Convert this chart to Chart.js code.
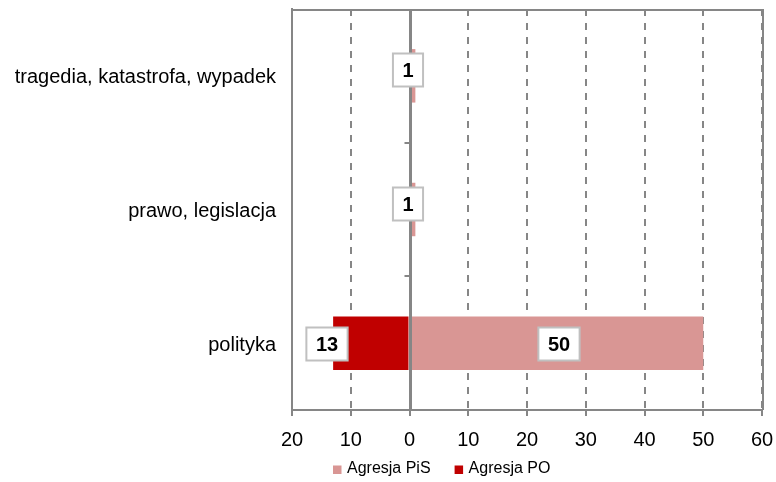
<!DOCTYPE html>
<html>
<head>
<meta charset="utf-8">
<script src="https://cdn.jsdelivr.net/npm/chart.js@4/dist/chart.umd.min.js"></script>
<style>
  html, body { margin: 0; padding: 0; background: #fff; }
  #wrap { width: 776px; height: 482px; }
</style>
</head>
<body>
<div id="wrap"><canvas id="c" width="776" height="482"></canvas></div>
<script>
const categories = ['tragedia, katastrofa, wypadek', 'prawo, legislacja', 'polityka'];
const seriesNames = ['Agresja PiS', 'Agresja PO'];
const pisValues = [1, 1, 50];
const poValues = [0, 0, -13]; // Agresja PO plotted to the left of zero
const xMin = -20, xMax = 60, xStep = 10;

const GRID = '#868686';
const FONT = 'Liberation Sans, Arial, sans-serif';

const frameAndLabels = {
  id: 'frameAndLabels',
  afterDatasetsDraw(chart) {
    const ctx = chart.ctx;
    const a = chart.chartArea;
    const xs = chart.scales.x, ys = chart.scales.y;
    const x0 = Math.round(xs.getPixelForValue(0)) + 0.5;
    ctx.save();
    ctx.strokeStyle = GRID;
    ctx.lineWidth = 2;
    ctx.setLineDash([]);
    ctx.beginPath();
    ctx.moveTo(a.left - 1, a.top + 1); ctx.lineTo(a.right + 1, a.top + 1);
    ctx.moveTo(Math.round(a.right) + 1, a.top); ctx.lineTo(Math.round(a.right) + 1, a.bottom);
    ctx.moveTo(Math.round(a.left), a.top); ctx.lineTo(Math.round(a.left), a.bottom);
    ctx.stroke();
    ctx.lineWidth = 3;
    ctx.beginPath();
    ctx.moveTo(x0, a.top); ctx.lineTo(x0, a.bottom);
    ctx.stroke();
    ctx.lineWidth = 2;
    ctx.beginPath();
    for (let i = 0; i < categories.length - 1; i++) {
      const yb = Math.round((ys.getPixelForValue(i) + ys.getPixelForValue(i + 1)) / 2);
      ctx.moveTo(x0 - 6, yb); ctx.lineTo(x0, yb);
    }
    ctx.stroke();

    // data labels
    ctx.font = 'bold 20px ' + FONT;
    ctx.textAlign = 'center';
    ctx.textBaseline = 'middle';
    chart.data.datasets.forEach((ds, di) => {
      const meta = chart.getDatasetMeta(di);
      meta.data.forEach((el, i) => {
        const v = ds.data[i];
        if (!v) return;
        const text = String(Math.abs(v));
        const w = ctx.measureText(text).width + 19;
        const h = 33;
        let cx, cy;
        if (v > 0) {
          if (Math.abs(el.x - el.base) < w) { cx = el.base - 3; cy = el.y - 6; }
          else { cx = (el.x + el.base) / 2 + 2; cy = el.y + 1; }
        } else {
          cx = el.x - 6; cy = el.y + 1;
        }
        cx = Math.round(cx); cy = Math.round(cy);
        ctx.fillStyle = '#ffffff';
        ctx.fillRect(cx - w / 2, cy - h / 2, w, h);
        ctx.strokeStyle = '#c0c0c0';
        ctx.lineWidth = 2;
        ctx.strokeRect(cx - w / 2, cy - h / 2, w, h);
        ctx.fillStyle = '#000';
        ctx.fillText(text, cx, cy + 1);
      });
    });

    // legend
    ctx.font = '16px ' + FONT;
    ctx.textAlign = 'left';
    ctx.textBaseline = 'alphabetic';
    let lx = 333;
    const baseY = 473;
    chart.data.datasets.forEach((ds) => {
      ctx.fillStyle = ds.backgroundColor;
      ctx.fillRect(lx, 465.5, 8.5, 8.5);
      lx += 14;
      ctx.fillStyle = '#000';
      ctx.fillText(ds.label, lx, baseY);
      lx += ctx.measureText(ds.label).width + 24;
    });
    ctx.restore();
  }
};

new Chart(document.getElementById('c'), {
  type: 'bar',
  data: {
    labels: categories,
    datasets: [
      { label: seriesNames[0], data: pisValues, backgroundColor: '#D99694', borderWidth: 0 },
      { label: seriesNames[1], data: poValues, backgroundColor: '#C00000', borderWidth: 0 }
    ]
  },
  options: {
    indexAxis: 'y',
    responsive: false,
    animation: false,
    events: [],
    barPercentage: 0.4,
    categoryPercentage: 1,
    layout: { padding: { top: 9, right: 14, left: 0, bottom: 28 } },
    scales: {
      x: {
        stacked: true,
        min: xMin, max: xMax,
        afterFit(s) { s.height = 44; s.paddingLeft = 0; s.paddingRight = 0; s.paddingTop = 0; s.paddingBottom = 0; },
        ticks: {
          stepSize: xStep,
          padding: 12,
          color: '#000',
          font: { family: FONT, size: 20 },
          callback: v => Math.abs(v)
        },
        grid: { color: GRID, lineWidth: 2, tickLength: 6, tickColor: GRID, tickWidth: 2 },
        border: { display: true, color: GRID, width: 2, dash: [7, 7] }
      },
      y: {
        stacked: true,
        afterFit(s) { s.width = 292; s.paddingLeft = 0; s.paddingRight = 0; s.paddingTop = 0; s.paddingBottom = 0; },
        ticks: { padding: 8, labelOffset: 2, color: '#000', font: { family: FONT, size: 20 } },
        grid: { display: false },
        border: { display: true, color: GRID, width: 2 }
      }
    },
    plugins: {
      legend: { display: false },
      tooltip: { enabled: false }
    }
  },
  plugins: [frameAndLabels]
});
</script>
</body>
</html>
